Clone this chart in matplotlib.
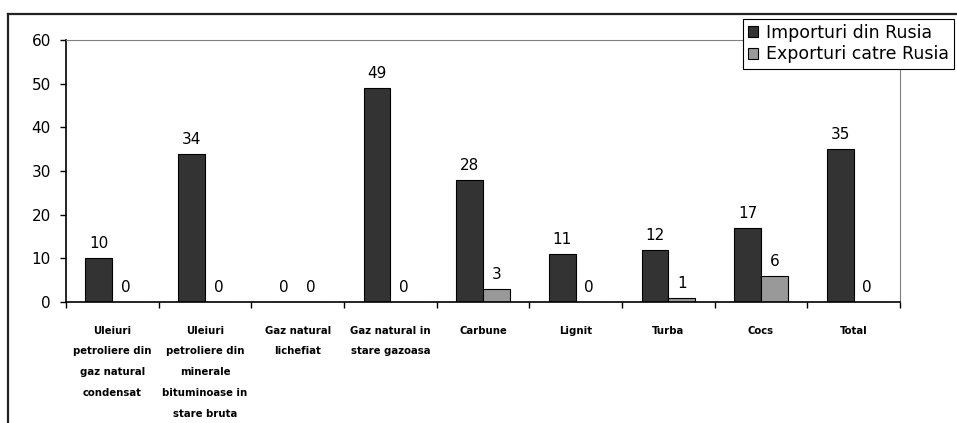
import numpy as np
import matplotlib.pyplot as plt
from matplotlib.lines import Line2D

# wider face so the text widths come close to the stretched reference
plt.rcParams['font.family'] = ['DejaVu Sans']

# categories and values
categorii = [
    "Uleiuri\npetroliere din\ngaz natural\ncondensat",
    "Uleiuri\npetroliere din\nminerale\nbituminoase in\nstare bruta",
    "Gaz natural\nlichefiat",
    "Gaz natural in\nstare gazoasa",
    "Carbune",
    "Lignit",
    "Turba",
    "Cocs",
    "Total",
]
importuri = [10, 34, 0, 49, 28, 11, 12, 17, 35]
exporturi = [0, 0, 0, 0, 3, 0, 1, 6, 0]

fig = plt.figure(figsize=(9.57, 4.23), dpi=100)
ax = fig.add_axes([0.069, 0.286, 0.8715, 0.619])

x = np.arange(len(categorii))
w = 0.29
b1 = ax.bar(x - w / 2, importuri, w, color='#333333', edgecolor='black', linewidth=0.8,
            label='Importuri din Rusia')
b2 = ax.bar(x + w / 2, exporturi, w, color='#999999', edgecolor='black', linewidth=0.8,
            label='Exporturi catre Rusia')

# value labels above the bars
for bars in (b1, b2):
    for r in bars:
        ax.annotate(f"{r.get_height():g}", (r.get_x() + r.get_width() / 2, r.get_height()),
                    xytext=(0, 5), textcoords='offset points', ha='center', va='bottom',
                    fontsize=11)

ax.set_xlim(-0.5, len(categorii) - 0.5)
ax.set_ylim(0, 60)
ax.set_yticks(range(0, 61, 10))
ax.tick_params(axis='y', labelsize=11, length=4, width=1, direction='out', pad=7)

ax.set_xticks(x)
ax.set_xticklabels(categorii, fontsize=7.3, fontweight='bold', linespacing=2.35, va='top')
ax.tick_params(axis='x', which='major', length=0, pad=17)
ax.set_xticks(np.arange(-0.5, len(categorii)), minor=True)
ax.tick_params(axis='x', which='minor', length=4, width=1, direction='out')

ax.spines['left'].set_linewidth(1.2)
ax.spines['bottom'].set_linewidth(1.2)
ax.spines['top'].set_color('#808080')
ax.spines['right'].set_color('#808080')
ax.spines['top'].set_linewidth(0.8)
ax.spines['right'].set_linewidth(0.8)

leg = fig.legend(loc='upper left', bbox_to_anchor=(0.776, 0.956), fontsize=12.5,
                 handlelength=0.6, handleheight=0.6, handletextpad=0.45,
                 labelspacing=0.2, borderpad=0.3, borderaxespad=0,
                 fancybox=False, framealpha=1)
leg.get_frame().set_edgecolor('black')
leg.get_frame().set_linewidth(0.8)

# outer chart frame (partly cut off in the reference)
fig.add_artist(Line2D([8 / 957, 1.0], [1 - 14 / 423, 1 - 14 / 423], color='#222222', linewidth=1.6))
fig.add_artist(Line2D([8 / 957, 8 / 957], [0, 1 - 14 / 423], color='#222222', linewidth=1.6))

fig.savefig('out.png', dpi=100)
